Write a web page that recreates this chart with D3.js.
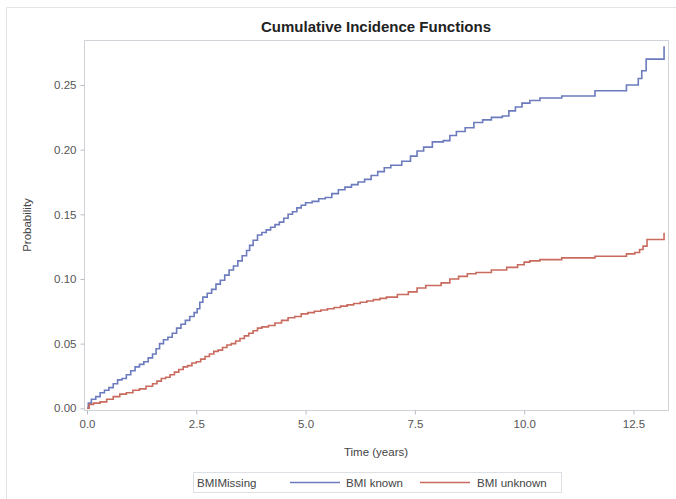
<!DOCTYPE html>
<html>
<head>
<meta charset="utf-8">
<title>Cumulative Incidence Functions</title>
<script src="https://cdn.jsdelivr.net/npm/d3@7"></script>
<style>
  body { margin: 0; background: #fff; }
  text { font-family: "Liberation Sans", Arial, sans-serif; }
</style>
</head>
<body>
<script>
// Time (years) and probability readings for each group
const knownTime = [0, 0.03, 0.1, 0.2, 0.3, 0.4, 0.5, 0.6, 0.7, 0.8, 0.9, 1.0, 1.1, 1.2, 1.3, 1.4, 1.5, 1.58, 1.66, 1.75, 1.85, 1.95, 2.05, 2.15, 2.25, 2.35, 2.45, 2.52, 2.58, 2.65, 2.75, 2.85, 2.95, 3.05, 3.15, 3.25, 3.35, 3.45, 3.55, 3.65, 3.72, 3.8, 3.9, 4.0, 4.1, 4.2, 4.3, 4.4, 4.5, 4.6, 4.7, 4.8, 4.9, 5.0, 5.15, 5.3, 5.45, 5.6, 5.75, 5.9, 6.05, 6.2, 6.35, 6.5, 6.65, 6.8, 6.95, 7.2, 7.4, 7.55, 7.7, 7.9, 8.15, 8.3, 8.45, 8.65, 8.85, 9.05, 9.25, 9.5, 9.65, 9.8, 9.95, 10.13, 10.36, 10.86, 11.62, 12.34, 12.61, 12.69, 12.79, 13.2];
const knownProb = [0, 0.004, 0.007, 0.009, 0.012, 0.014, 0.016, 0.019, 0.022, 0.023, 0.026, 0.029, 0.032, 0.034, 0.036, 0.039, 0.042, 0.046, 0.050, 0.053, 0.055, 0.058, 0.062, 0.065, 0.068, 0.071, 0.074, 0.077, 0.082, 0.086, 0.089, 0.092, 0.096, 0.099, 0.103, 0.107, 0.110, 0.114, 0.118, 0.122, 0.126, 0.130, 0.134, 0.136, 0.138, 0.140, 0.142, 0.144, 0.147, 0.150, 0.152, 0.155, 0.157, 0.159, 0.160, 0.162, 0.163, 0.166, 0.169, 0.171, 0.173, 0.175, 0.177, 0.180, 0.183, 0.186, 0.188, 0.191, 0.195, 0.199, 0.202, 0.206, 0.207, 0.211, 0.214, 0.217, 0.221, 0.223, 0.225, 0.226, 0.230, 0.233, 0.236, 0.238, 0.240, 0.2415, 0.2455, 0.250, 0.255, 0.261, 0.270, 0.280];

const unknownTime = [0, 0.05, 0.15, 0.3, 0.45, 0.6, 0.75, 0.9, 1.05, 1.2, 1.35, 1.5, 1.6, 1.7, 1.8, 1.9, 2.0, 2.1, 2.2, 2.3, 2.4, 2.5, 2.6, 2.7, 2.8, 2.9, 3.0, 3.1, 3.2, 3.3, 3.4, 3.5, 3.6, 3.7, 3.8, 3.9, 4.0, 4.15, 4.3, 4.45, 4.6, 4.75, 4.9, 5.05, 5.2, 5.35, 5.5, 5.65, 5.8, 5.95, 6.1, 6.25, 6.4, 6.55, 6.7, 6.85, 7.1, 7.35, 7.55, 7.75, 8.1, 8.3, 8.5, 8.7, 8.9, 9.25, 9.6, 9.85, 10.0, 10.13, 10.36, 10.86, 11.62, 12.34, 12.53, 12.64, 12.72, 12.81, 13.2];
const unknownProb = [0, 0.003, 0.004, 0.005, 0.007, 0.009, 0.011, 0.012, 0.014, 0.015, 0.017, 0.019, 0.021, 0.023, 0.024, 0.026, 0.028, 0.030, 0.032, 0.033, 0.035, 0.036, 0.038, 0.040, 0.042, 0.044, 0.045, 0.047, 0.049, 0.050, 0.052, 0.054, 0.056, 0.058, 0.060, 0.062, 0.063, 0.064, 0.066, 0.068, 0.070, 0.071, 0.073, 0.074, 0.075, 0.076, 0.077, 0.078, 0.079, 0.080, 0.081, 0.082, 0.083, 0.084, 0.085, 0.086, 0.088, 0.090, 0.093, 0.095, 0.097, 0.100, 0.102, 0.104, 0.105, 0.107, 0.109, 0.111, 0.113, 0.114, 0.115, 0.1163, 0.1176, 0.1194, 0.1205, 0.1228, 0.1254, 0.1305, 0.1357];

const xTicks = [0, 2.5, 5, 7.5, 10, 12.5];
const yTicks = [0, 0.05, 0.10, 0.15, 0.20, 0.25];
const groupNames = ['BMI known', 'BMI unknown'];
const groupColors = ['#6b7bbd', '#c96a5e'];

const width = 676, height = 499;
// plot frame
const frame = { left: 84, right: 668, top: 40, bottom: 410 };

const svg = d3.select('body').append('svg')
  .attr('width', width)
  .attr('height', height);

// outer border of the graph
svg.append('path')
  .attr('d', 'M6.5,499 V7.5 H676')
  .attr('fill', 'none')
  .attr('stroke', '#e2e4e6');

const x = d3.scaleLinear().domain([0, 13.29]).range([87, frame.right]);
const y = d3.scaleLinear().domain([0, 0.2848]).range([408.3, frame.top]);

// title
svg.append('text')
  .attr('x', (frame.left + frame.right) / 2)
  .attr('y', 32)
  .attr('text-anchor', 'middle')
  .style('font-size', '15px')
  .style('font-weight', 'bold')
  .style('fill', '#222')
  .text('Cumulative Incidence Functions');

// plot frame
svg.append('rect')
  .attr('x', frame.left + 0.5)
  .attr('y', frame.top + 0.5)
  .attr('width', frame.right - frame.left)
  .attr('height', frame.bottom - frame.top)
  .attr('fill', 'none')
  .attr('stroke', '#cfd3d8');

// axes
const xAxis = svg.append('g')
  .attr('transform', `translate(0, ${frame.bottom + 0.5})`)
  .call(d3.axisBottom(x).tickValues(xTicks).tickFormat(d3.format('.1f')).tickSize(4).tickSizeOuter(0));

const yAxis = svg.append('g')
  .attr('transform', `translate(${frame.left + 0.5}, 0)`)
  .call(d3.axisLeft(y).tickValues(yTicks).tickFormat(d3.format('.2f')).tickSize(4).tickSizeOuter(0));

[xAxis, yAxis].forEach(a => {
  a.select('.domain').remove();
  a.selectAll('line').attr('stroke', '#b8bcc2');
  a.selectAll('text')
    .style('font-size', '11.5px')
    .style('font-family', '"Liberation Sans", Arial, sans-serif')
    .attr('fill', '#555');
});
xAxis.selectAll('text').attr('dy', '0.71em').attr('y', 9);
yAxis.selectAll('text').attr('x', -8);

// axis labels
svg.append('text')
  .attr('x', (frame.left + frame.right) / 2)
  .attr('y', 456)
  .attr('text-anchor', 'middle')
  .style('font-size', '11.5px')
  .style('fill', '#444')
  .text('Time (years)');

svg.append('text')
  .attr('transform', `translate(31, ${(frame.top + frame.bottom) / 2}) rotate(-90)`)
  .attr('text-anchor', 'middle')
  .style('font-size', '11.5px')
  .style('fill', '#444')
  .text('Probability');

// step curves
const line = d3.line()
  .x(d => x(d[0]))
  .y(d => y(d[1]))
  .curve(d3.curveStepAfter);

const series = [
  d3.zip(knownTime, knownProb),
  d3.zip(unknownTime, unknownProb)
];

svg.selectAll('.cif')
  .data(series)
  .enter()
  .append('path')
  .attr('class', 'cif')
  .attr('d', line)
  .attr('fill', 'none')
  .attr('stroke', (d, i) => groupColors[i])
  .attr('stroke-width', 1.6);

// legend
const legend = svg.append('g');
legend.append('rect')
  .attr('x', 193.5)
  .attr('y', 472.5)
  .attr('width', 368)
  .attr('height', 20)
  .attr('fill', 'none')
  .attr('stroke', '#dcdfe3');

legend.append('text')
  .attr('x', 197)
  .attr('y', 486.5)
  .style('font-size', '11.5px')
  .style('fill', '#444')
  .text('BMIMissing');

const legendItems = [
  { lineX: 290, textX: 346 },
  { lineX: 420, textX: 477 }
];
legendItems.forEach((it, i) => {
  legend.append('line')
    .attr('x1', it.lineX).attr('x2', it.lineX + 50)
    .attr('y1', 482.5).attr('y2', 482.5)
    .attr('stroke', groupColors[i])
    .attr('stroke-width', 1.6);
  legend.append('text')
    .attr('x', it.textX)
    .attr('y', 486.5)
    .style('font-size', '11.5px')
    .style('fill', '#444')
    .text(groupNames[i]);
});
</script>
</body>
</html>
